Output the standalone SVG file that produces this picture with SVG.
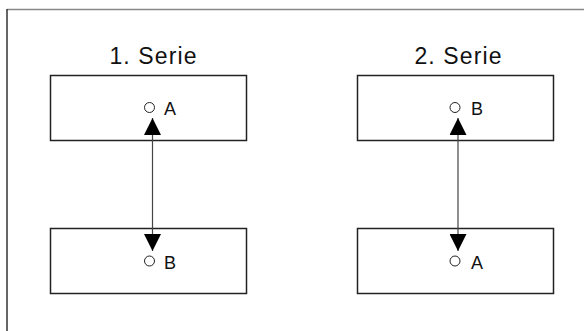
<svg xmlns="http://www.w3.org/2000/svg" width="584" height="331" viewBox="0 0 584 331">
  <style>
    .box { fill: #fff; stroke: #222; stroke-width: 1.5; }
    .pin { fill: #fff; stroke: #222; stroke-width: 1; }
    .title { font-family: "Liberation Sans", Arial, sans-serif; font-size: 23px; letter-spacing: 1.1px; fill: #111; text-anchor: middle; }
    .lbl { font-family: "Liberation Sans", Arial, sans-serif; font-size: 18px; fill: #111; }
    .conn { stroke: #444; stroke-width: 1.2; fill: none; marker-start: url(#arr); marker-end: url(#arr); }
  </style>
  <defs>
    <marker id="arr" viewBox="0 0 17 17" refX="17" refY="8.5" markerWidth="17" markerHeight="17" markerUnits="userSpaceOnUse" orient="auto-start-reverse">
      <path d="M0,0 L17,8.5 L0,17 z" fill="#000"/>
    </marker>
  </defs>
  <rect width="584" height="331" fill="#fff"/>
  <g id="frame">
    <line x1="7" y1="9.5" x2="584" y2="9.5" stroke="#888" stroke-width="1.5"/>
    <line x1="7" y1="9" x2="7" y2="331" stroke="#333" stroke-width="1.5"/>
  </g>
  <g id="title1"><text class="title" x="153.5" y="63.5">1. Serie</text></g>
  <g id="title2"><text class="title" x="458.5" y="63.5">2. Serie</text></g>
  <g id="s1-top">
    <rect class="box" x="50.5" y="75.5" width="196" height="65"/>
    <circle class="pin" cx="149.5" cy="107.5" r="5"/>
    <text class="lbl" x="164" y="114.5">A</text>
  </g>
  <g id="s1-bottom">
    <rect class="box" x="50.5" y="228.5" width="196" height="65"/>
    <circle class="pin" cx="149.5" cy="261" r="5"/>
    <text class="lbl" x="164" y="268.5">B</text>
  </g>
  <g id="s2-top">
    <rect class="box" x="357.5" y="75.5" width="196" height="65"/>
    <circle class="pin" cx="455" cy="107.5" r="5"/>
    <text class="lbl" x="471" y="114.5">B</text>
  </g>
  <g id="s2-bottom">
    <rect class="box" x="357.5" y="228.5" width="196" height="65"/>
    <circle class="pin" cx="455" cy="261" r="5"/>
    <text class="lbl" x="471" y="268.5">A</text>
  </g>
  <g id="connectors">
    <line class="conn" x1="152.5" y1="118" x2="152.5" y2="251"/>
    <line class="conn" x1="458" y1="118" x2="458" y2="251"/>
  </g>
</svg>
